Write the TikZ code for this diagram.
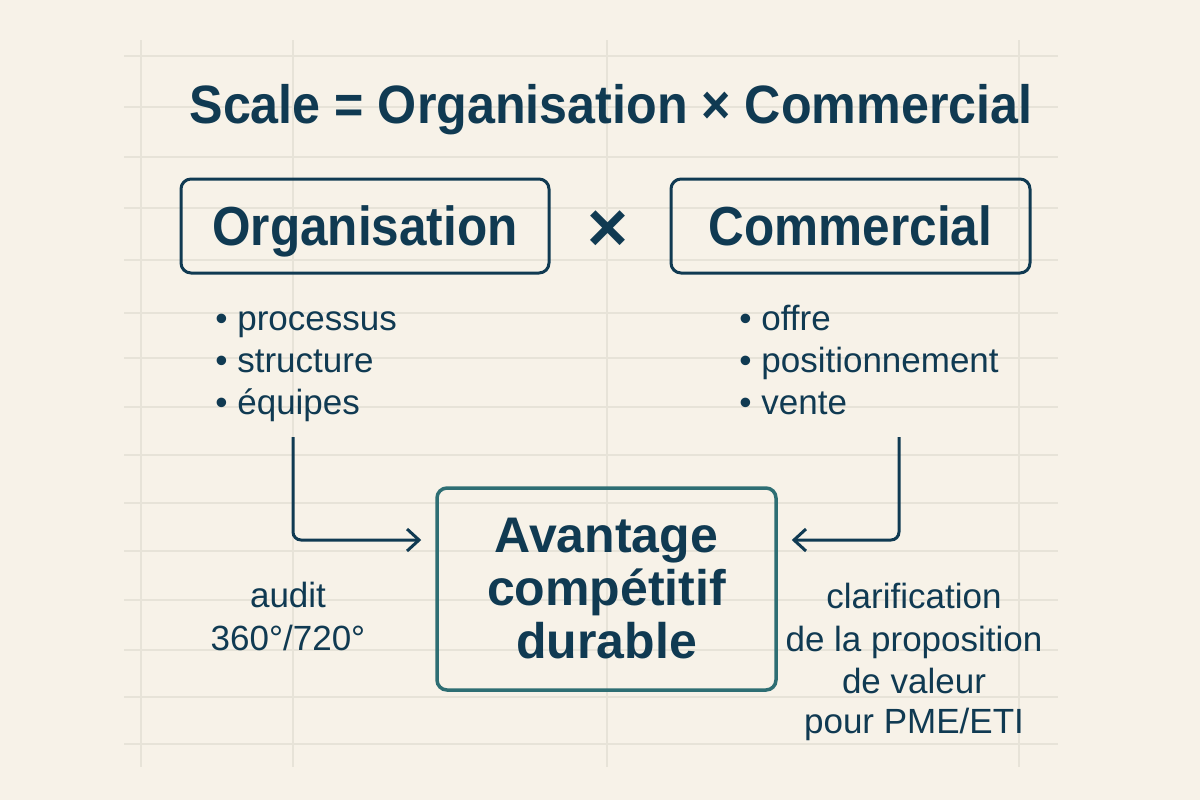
\documentclass[tikz,border=0pt]{standalone}
\usepackage{fontspec}
\setmainfont{Liberation Sans}
\usetikzlibrary{arrows.meta}
\definecolor{navy}{RGB}{16,58,82}
\definecolor{tealc}{RGB}{46,110,115}
\definecolor{bgc}{RGB}{247,242,232}
\definecolor{gridc}{RGB}{231,227,216}
\begin{document}
\begin{tikzpicture}[x=0.5pt,y=-0.5pt,
  gridline/.style={draw=gridc, line width=0.7pt},
  boxstyle/.style={draw=navy, line width=1.5pt, rounded corners=5pt, text=navy,
    font=\bfseries\fontsize{27.5}{32}\selectfont, text height=19.7pt, text depth=0pt,
    minimum height=47pt, inner sep=0pt},
  centerbox/.style={draw=tealc, line width=1.75pt, rounded corners=5pt, text=navy,
    font=\bfseries\fontsize{25}{26.5}\selectfont, align=center,
    minimum width=169.5pt, minimum height=101pt, inner sep=0pt},
  titletext/.style={text=navy, font=\bfseries\fontsize{27}{32}\selectfont, anchor=base, inner sep=0pt},
  listtext/.style={text=navy, font=\fontsize{17.5}{21}\selectfont, anchor=base west, inner sep=0pt},
  labeltext/.style={text=navy, font=\fontsize{17.5}{21}\selectfont, anchor=base, inner sep=0pt},
  arrowline/.style={draw=navy, line width=1.5pt, rounded corners=4pt,
    -{Straight Barb[length=6pt,width=11pt]}}
]
\fill[bgc] (0,0) rectangle (1200,800);
\useasboundingbox (0,0) rectangle (1200,800);
% grid
\foreach \yy in {56,107,157,208,260,313,358,407,455,503,551,600,650,697,744}
  \draw[gridline] (124,\yy) -- (1058,\yy);
\foreach \xx in {141,293,607,1019}
  \draw[gridline] (\xx,40) -- (\xx,767);
% title
\node[titletext] (title) at (611,123) {\scalebox{0.93}[1]{Scale = Organisation × Commercial}};
% boxes
\node[boxstyle, minimum width=184pt] (org) at (365,226) {\scalebox{0.9}[1]{Organisation}};
\node[boxstyle, minimum width=179.5pt] (com) at (850.5,226) {\scalebox{0.9}[1]{Commercial}};
\node[text=navy, font=\bfseries\fontsize{35}{40}\selectfont, inner sep=0pt] (times) at (608,231) {×};
% lists
\node[listtext] (l1) at (215,330) {• processus};
\node[listtext] (l2) at (215,372) {• structure};
\node[listtext] (l3) at (215,414) {• équipes};
\node[listtext] (r1) at (739,330) {• offre};
\node[listtext] (r2) at (739,372) {• positionnement};
\node[listtext] (r3) at (739,414) {• vente};
% center
\node[centerbox] (adv) at (606.5,589) {Avantage\\compétitif\\durable};
% arrows
\coordinate (ls) at (293,437);
\coordinate (rs) at (899,437);
\draw[arrowline] (ls) |- ([xshift=-7pt,yshift=24.5pt]adv.west);
\draw[arrowline] (rs) |- ([xshift=7pt,yshift=24.5pt]adv.east);
% side labels
\node[labeltext] (a1) at (288,607) {audit};
\node[labeltext] (a2) at (288,650) {360°/720°};
\node[labeltext] (c1) at (914,608) {clarification};
\node[labeltext] (c2) at (914,651) {de la proposition};
\node[labeltext] (c3) at (914,693) {de valeur};
\node[labeltext] (c4) at (914,733) {pour PME/ETI};
\end{tikzpicture}
\end{document}
